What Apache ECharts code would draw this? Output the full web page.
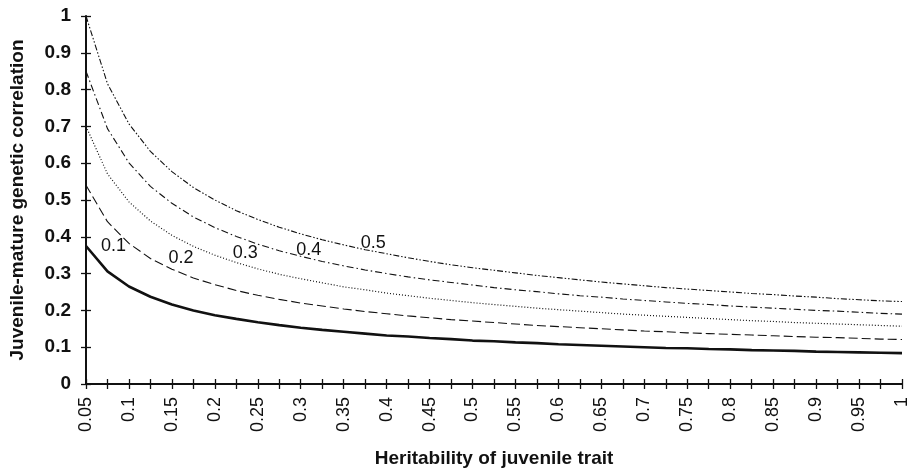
<!DOCTYPE html>
<html><head><meta charset="utf-8">
<script src="https://cdn.jsdelivr.net/npm/echarts@6/dist/echarts.min.js"></script>
<style>html,body{margin:0;padding:0;background:#fff}#c{width:911px;height:474px}</style>
</head><body><div id="c"></div>
<script>
const categories = ['0.05','0.075','0.1','0.125','0.15','0.175','0.2','0.225','0.25','0.275','0.3','0.325','0.35','0.375','0.4','0.425','0.45','0.475','0.5','0.525','0.55','0.575','0.6','0.625','0.65','0.675','0.7','0.725','0.75','0.775','0.8','0.825','0.85','0.875','0.9','0.925','0.95','0.975','1'];
const yTicks = [0,0.1,0.2,0.3,0.4,0.5,0.6,0.7,0.8,0.9,1];
const curve01 = [0.375,0.306,0.265,0.237,0.216,0.200,0.187,0.177,0.168,0.160,0.153,0.147,0.142,0.137,0.132,0.129,0.125,0.122,0.118,0.116,0.113,0.111,0.108,0.106,0.104,0.102,0.100,0.098,0.097,0.095,0.094,0.092,0.091,0.090,0.088,0.087,0.086,0.085,0.084];
const curve02 = [0.540,0.441,0.382,0.341,0.312,0.288,0.270,0.254,0.241,0.230,0.220,0.212,0.204,0.197,0.191,0.185,0.180,0.175,0.171,0.167,0.163,0.159,0.156,0.153,0.150,0.147,0.144,0.142,0.139,0.137,0.135,0.133,0.131,0.129,0.127,0.126,0.124,0.122,0.121];
const curve03 = [0.700,0.571,0.495,0.443,0.404,0.374,0.350,0.330,0.313,0.298,0.286,0.275,0.264,0.256,0.247,0.240,0.233,0.227,0.221,0.216,0.211,0.206,0.202,0.198,0.194,0.190,0.187,0.184,0.181,0.178,0.175,0.172,0.170,0.167,0.165,0.163,0.161,0.159,0.157];
const curve04 = [0.850,0.694,0.601,0.537,0.491,0.454,0.425,0.401,0.380,0.362,0.347,0.333,0.321,0.310,0.300,0.291,0.283,0.276,0.269,0.262,0.256,0.251,0.245,0.240,0.236,0.231,0.227,0.223,0.219,0.216,0.212,0.209,0.206,0.203,0.200,0.198,0.195,0.192,0.190];
const curve05 = [1.000,0.816,0.707,0.632,0.577,0.534,0.500,0.471,0.447,0.426,0.408,0.392,0.378,0.365,0.354,0.343,0.333,0.324,0.316,0.309,0.302,0.295,0.289,0.283,0.277,0.272,0.267,0.262,0.258,0.254,0.250,0.246,0.243,0.239,0.236,0.232,0.229,0.226,0.224];
const curveLabels = ['0.1','0.2','0.3','0.4','0.5'];
const labelAnchors = [['0.075',0.375],['0.15',0.342],['0.225',0.356],['0.3',0.364],['0.375',0.383]];

const FONT = 'Arial, "Liberation Sans", sans-serif';
const chart = echarts.init(document.getElementById('c'), null, {renderer:'canvas'});
const curves = [curve01, curve02, curve03, curve04, curve05];
const styles = [
  {width:2.6, type:'solid', off:[6,0]},
  {width:1.1, type:[9,4], off:[9,0]},
  {width:1.2, type:[1,2], off:[9,0]},
  {width:1.1, type:[7,3,1.5,3], off:[8,0]},
  {width:1.1, type:[6,2,1.5,2,1.5,2], off:[8,0]}
];
const series = curves.map((d,i)=>({
  type:'line', data:d, symbol:'none', smooth:false, silent:true,
  lineStyle:{color:'#111', width:styles[i].width, type:styles[i].type},
  markPoint: {
    symbol:'circle', symbolSize:0, silent:true,
    label:{show:true, formatter:curveLabels[i], color:'#111', fontSize:18, fontFamily:FONT, position:'inside', offset:styles[i].off},
    data:[{coord:labelAnchors[i]}]
  }
}));
chart.setOption({
  animation:false,
  backgroundColor:'#fff',
  grid:{left:85, right:6, top:16, bottom:90, containLabel:false},
  xAxis:[{
    type:'category', data:categories, boundaryGap:false,
    name:'Heritability of juvenile trait', nameLocation:'middle', nameGap:65,
    nameTextStyle:{fontSize:19, fontWeight:'bold', color:'#111', fontFamily:FONT},
    axisLine:{lineStyle:{color:'#111', width:2}},
    axisTick:{show:true, interval:0, length:5, lineStyle:{color:'#111', width:1.3}},
    axisLabel:{interval:1, rotate:90, margin:13, fontSize:18, color:'#111', fontFamily:FONT},
    splitLine:{show:false}
  },{
    type:'category', data:categories, boundaryGap:false, position:'bottom',
    axisLine:{show:false},
    axisTick:{show:true, inside:true, interval:0, length:5, lineStyle:{color:'#111', width:1.3}},
    axisLabel:{show:false}, splitLine:{show:false}
  }],
  yAxis:[{
    type:'value', min:0, max:1, interval:0.1,
    name:'Juvenile-mature genetic correlation', nameLocation:'middle', nameGap:59,
    nameTextStyle:{fontSize:19, fontWeight:'bold', color:'#111', fontFamily:FONT},
    axisLine:{show:true, lineStyle:{color:'#111', width:2}},
    axisTick:{show:true, length:5, lineStyle:{color:'#111', width:1.3}},
    axisLabel:{margin:15, fontSize:19, fontWeight:'bold', color:'#111', fontFamily:FONT,
      formatter:v=>{const t=yTicks.find(x=>Math.abs(x-v)<1e-9); return t===undefined?'':String(t);}},
    splitLine:{show:false}
  },{
    type:'value', min:0, max:1, interval:0.1, position:'left',
    axisLine:{show:false},
    axisTick:{show:true, inside:true, length:5, lineStyle:{color:'#111', width:1.3}},
    axisLabel:{show:false}, splitLine:{show:false}
  }],
  series: series
});
</script></body></html>
